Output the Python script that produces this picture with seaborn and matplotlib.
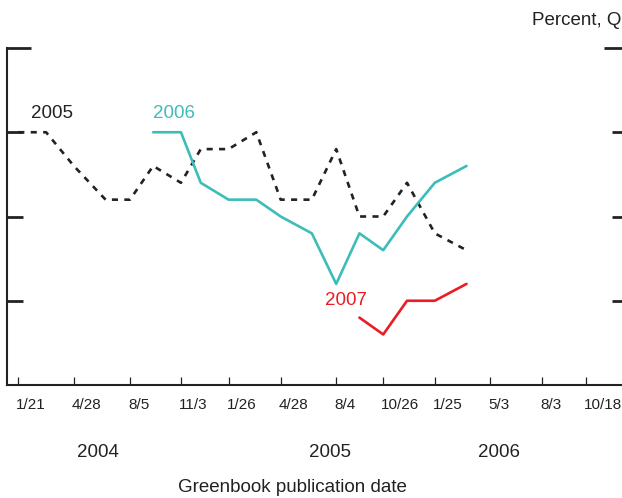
import matplotlib.pyplot as plt
import matplotlib.transforms as mtransforms
import pandas as pd
import seaborn as sns

# Greenbook publication dates (one per FOMC meeting)
gb_dates = ["2004-01-21", "2004-03-10", "2004-04-28", "2004-06-23", "2004-08-05",
            "2004-09-15", "2004-11-03", "2004-12-08", "2005-01-26", "2005-03-16",
            "2005-04-28", "2005-06-22", "2005-08-04", "2005-09-14", "2005-10-26",
            "2005-12-07", "2006-01-25", "2006-03-22"]

# forecasts, percent Q4/Q4
f2005 = [2.5, 2.5, 2.3, 2.1, 2.1, 2.3, 2.2, 2.4, 2.4, 2.5, 2.1, 2.1, 2.4, 2.0, 2.0, 2.2, 1.9, 1.8]
f2006 = [2.5, 2.5, 2.2, 2.1, 2.1, 2.0, 1.9, 1.6, 1.9, 1.8, 2.0, 2.2, 2.3]   # from 9/15/04
f2007 = [1.4, 1.3, 1.5, 1.5, 1.6]                                          # from 9/14/05

tick_dates = ["2004-01-21", "2004-04-28", "2004-08-05", "2004-11-03", "2005-01-26",
              "2005-04-28", "2005-08-04", "2005-10-26", "2006-01-25", "2006-05-03",
              "2006-08-03", "2006-10-18"]
tick_labels = ["1/21", "4/28", "8/5", "11/3", "1/26", "4/28", "8/4", "10/26",
               "1/25", "5/3", "8/3", "10/18"]
years = ["2004", "2005", "2006"]
year_pos = ["2004-06-10", "2005-07-24", "2006-05-18"]

dates = pd.to_datetime(gb_dates)

sns.set_style("white")
plt.rcParams["font.family"] = ["Liberation Sans", "DejaVu Sans"]

fig = plt.figure(figsize=(6.22, 4.98), dpi=100)
ax = fig.add_axes([7 / 622, 113 / 498, 621 / 622, 337 / 498])

teal = "#3dbdb9"
red = "#ec1c24"
black = "#222222"

sns.lineplot(x=dates, y=f2005, ax=ax, color=black, linewidth=1.9,
             linestyle=(0, (2.3, 2.4)))
sns.lineplot(x=dates[5:], y=f2006, ax=ax, color=teal, linewidth=1.9)
sns.lineplot(x=dates[13:], y=f2007, ax=ax, color=red, linewidth=1.9)

ax.text(pd.Timestamp("2004-03-21"), 2.61, "2005", color=black, fontsize=13.5,
        ha="center", va="center")
ax.text(pd.Timestamp("2004-10-22"), 2.61, "2006", color=teal, fontsize=13.5,
        ha="center", va="center")
ax.text(pd.Timestamp("2005-08-22"), 1.5, "2007", color=red, fontsize=13.5,
        ha="center", va="center")

ax.set_xlim(pd.Timestamp("2004-01-01"), pd.Timestamp("2007-01-01"))
ax.set_ylim(1.0, 3.0)

for s in ["top", "right"]:
    ax.spines[s].set_visible(False)
for s in ["left", "bottom"]:
    ax.spines[s].set_linewidth(1.5)
    ax.spines[s].set_color(black)

ax.set_yticks([3.0])
ax.set_yticks([1.5, 2.0, 2.5], minor=True)
ax.tick_params(axis="y", which="both", direction="in", left=True, right=True,
               labelleft=False, labelright=False, width=2, color=black)
ax.tick_params(axis="y", which="major", length=17.5)
ax.tick_params(axis="y", which="minor", length=11.5)

ax.set_xticks(pd.to_datetime(tick_dates))
ax.set_xticklabels(tick_labels, fontsize=11, ha="left")
ax.tick_params(axis="x", which="major", direction="in", bottom=True, length=6,
               width=0.9, color=black, pad=9, labelcolor=black)
offset = mtransforms.ScaledTranslation(-2 / 100, 0, fig.dpi_scale_trans)
for lab in ax.get_xticklabels():
    lab.set_transform(lab.get_transform() + offset)

ax.set_xlabel("")
ax.set_ylabel("")

trans = mtransforms.blended_transform_factory(ax.transData, fig.transFigure)
for y, p in zip(years, year_pos):
    ax.text(pd.Timestamp(p), 46 / 498, y, transform=trans, fontsize=13.5,
            ha="center", va="center", color=black)

fig.text(292 / 622, 11 / 498, "Greenbook publication date", fontsize=13.5,
         ha="center", va="center", color=black)
fig.text(0.999, 478 / 498, "Percent, Q", fontsize=13.5, ha="right", va="center",
         color=black)

fig.savefig("out.png", dpi=100)
